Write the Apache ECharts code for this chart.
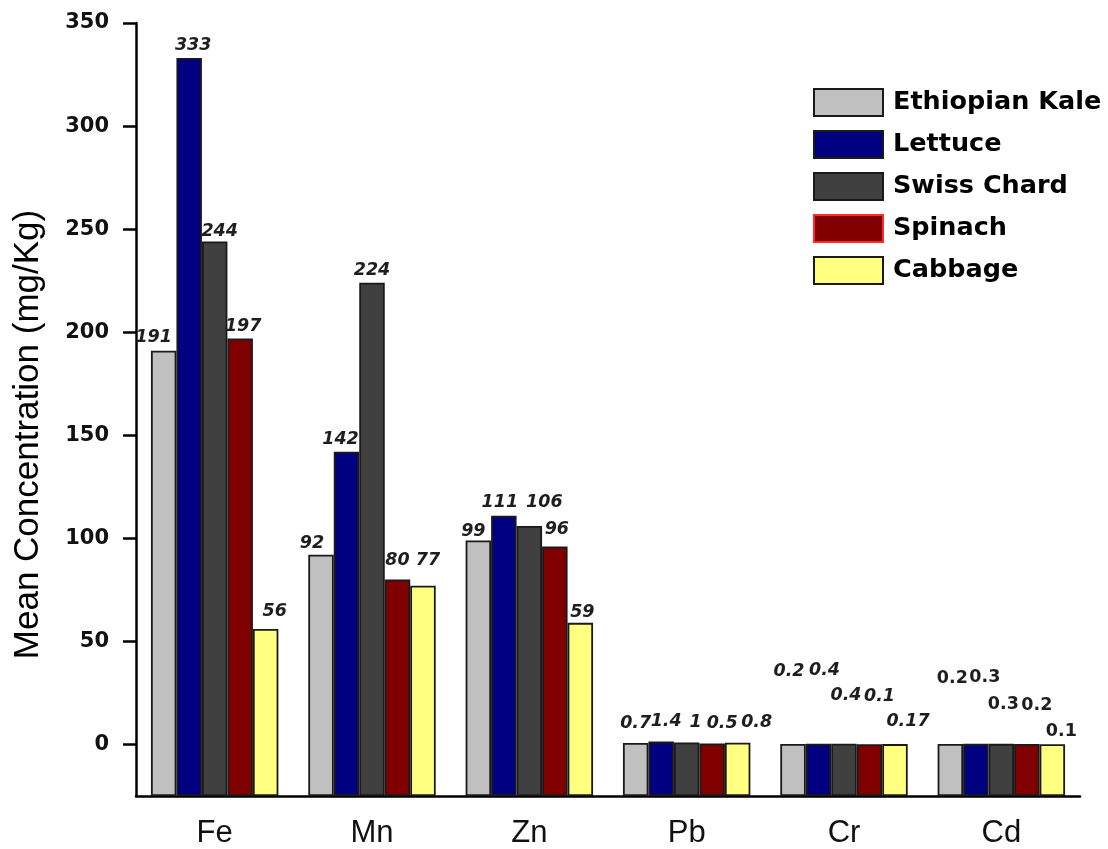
<!DOCTYPE html>
<html>
<head>
<meta charset="utf-8">
<script src="https://cdn.jsdelivr.net/npm/echarts@6/dist/echarts.min.js"></script>
<style>
  html, body { margin: 0; padding: 0; background: #ffffff; }
  #chart { width: 1108px; height: 849px; }
</style>
</head>
<body>
<div id="chart"></div>
<script>
// Heavy metal concentrations in leafy vegetables (mg/Kg)
const metals = ['Fe', 'Mn', 'Zn', 'Pb', 'Cr', 'Cd'];
const vegetables = ['Ethiopian Kale', 'Lettuce', 'Swiss Chard', 'Spinach', 'Cabbage'];

const ethiopianKale = [191, 92, 99, 0.7, 0.2, 0.2];
const lettuce       = [333, 142, 111, 1.4, 0.4, 0.3];
const swissChard    = [244, 224, 106, 1, 0.4, 0.3];
const spinach       = [197, 80, 96, 0.5, 0.1, 0.2];
const cabbage       = [56, 77, 59, 0.8, 0.17, 0.1];

const yTicks = [0, 50, 100, 150, 200, 250, 300, 350];

const seriesValues = [ethiopianKale, lettuce, swissChard, spinach, cabbage];
const barColors = ['#c0c0c0', '#000080', '#404040', '#800000', '#ffff80'];

// Per-label nudges [dx, dy] so neighbouring value labels do not collide
const labelNudge = [
  [[-10, 0], [-9, 2], [-5, 4], [0, -7], [-4, -60], [2, -53]],
  [[4, 0], [-6, 1], [-4, 0], [5, -7], [6, -60], [9, -53]],
  [[5, 3], [0, 1], [15, -11], [9, -7], [2, -35], [2, -26]],
  [[3, 1], [0, -6], [2, -4], [10, -7], [10, -35], [10, -26]],
  [[9, -5], [5, -12], [2, 3], [19, -7], [13, -10], [9, 0]]
];

const chart = echarts.init(document.getElementById('chart'), null, { renderer: 'canvas' });

const series = vegetables.map((name, s) => ({
  name: name,
  type: 'bar',
  barGap: '0%',
  barCategoryGap: '19%',
  itemStyle: { color: barColors[s], borderColor: '#1a1a1a', borderWidth: 1.8 },
  label: {
    show: true,
    position: 'top',
    distance: 4,
    fontFamily: 'DejaVu Sans',
    fontWeight: 'bold',
    fontStyle: 'italic',
    fontSize: 17.5,
    color: '#1e1e1e',
    formatter: p => String(p.value)
  },
  data: seriesValues[s].map((v, i) => ({
    value: v,
    label: Object.assign({ offset: labelNudge[s][i] },
      metals[i] === 'Cd' ? { fontStyle: 'normal' } : {})
  }))
}));

chart.setOption({
  animation: false,
  backgroundColor: '#ffffff',
  textStyle: { fontFamily: 'Liberation Sans' },
  grid: { left: 136, right: 28, top: 23, bottom: 52, containLabel: false },
  legend: {
    orient: 'vertical',
    left: 813,
    top: 88,
    padding: 0,
    itemWidth: 69,
    itemHeight: 27,
    itemGap: 13,
    icon: 'rect',
    selectedMode: false,
    textStyle: {
      fontFamily: 'DejaVu Sans',
      fontWeight: 'bold',
      fontSize: 25.5,
      color: '#000000',
      padding: [0, 0, 0, 5]
    },
    data: vegetables.map(n => n === 'Spinach'
      ? { name: n, itemStyle: { borderColor: '#ff2a2a', borderWidth: 2 } }
      : { name: n })
  },
  xAxis: {
    type: 'category',
    data: metals,
    axisLine: { onZero: false, lineStyle: { color: '#000000', width: 2.5 } },
    axisTick: { alignWithLabel: true, length: 14, lineStyle: { color: '#000000', width: 2.5 } },
    axisLabel: { fontFamily: 'Liberation Sans', fontSize: 31, color: '#111111', margin: 22 },
    splitLine: { show: false }
  },
  yAxis: {
    type: 'value',
    min: -25,
    max: 350,
    startValue: -25,
    name: 'Mean Concentration (mg/Kg)',
    nameLocation: 'middle',
    nameGap: 90,
    nameTextStyle: { fontFamily: 'Liberation Sans', fontSize: 35, color: '#000000', padding: [0, 50, 0, 0] },
    axisLine: { show: true, lineStyle: { color: '#000000', width: 2.5 } },
    axisTick: { show: true, length: 13, customValues: yTicks, lineStyle: { color: '#000000', width: 2.5 } },
    axisLabel: {
      customValues: yTicks,
      fontFamily: 'DejaVu Sans',
      fontWeight: 'bold',
      fontSize: 21,
      color: '#111111',
      margin: 27
    },
    splitLine: { show: false }
  },
  series: series
});
</script>
</body>
</html>
